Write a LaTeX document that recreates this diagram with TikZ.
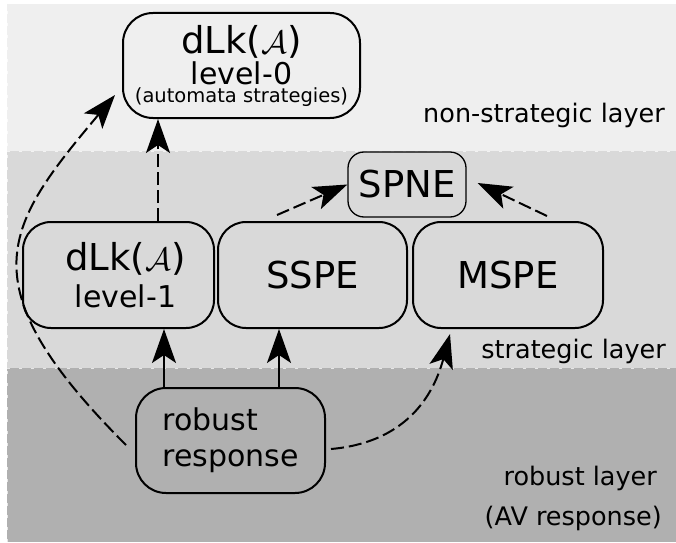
\documentclass[tikz,border=0pt]{standalone}
\usepackage{fontspec}
\setmainfont{DejaVu Sans}
\usetikzlibrary{arrows.meta}
\definecolor{bandtop}{HTML}{EFEFEF}
\definecolor{bandmid}{HTML}{D9D9D9}
\definecolor{bandlow}{HTML}{B0B0B0}
\newcommand{\calA}{\scalebox{1.3}{$\mathcal{A}$}}
\begin{document}
\begin{tikzpicture}[x=1pt,y=1pt,
  box/.style={draw=black, line width=2pt, inner sep=0pt, rounded corners=28pt},
  arr/.style={-{Stealth[length=34pt,width=24pt,inset=8pt]}, line width=2pt},
  dsh/.style={dash pattern=on 13pt off 5pt},
  bandedge/.style={draw=white, line width=1pt, dash pattern=on 3pt off 9pt, opacity=.7},
  layerlabel/.style={anchor=base east, inner sep=0pt, font=\fontsize{25.5}{30}\selectfont}]
\useasboundingbox (0,0) rectangle (676,542);
\fill[white] (0,0) rectangle (676,542);
\fill[bandtop] (7,391) rectangle (676,538);
\fill[bandmid] (7,174) rectangle (676,391);
\fill[bandlow] (7,0) rectangle (676,174);
\draw[bandedge] (7,538) -- (676,538);
\draw[bandedge] (7,391) -- (676,391);
\draw[bandedge] (7,174) -- (676,174);
\draw[bandedge] (7,0) -- (7,538);

% boxes
\node[box, rounded corners=30pt, minimum width=237pt, minimum height=105pt, align=center,
  font=\fontsize{30}{31}\selectfont] (L0) at (241.5,476.5)
  {{\fontsize{37}{37}\selectfont dLk(\calA)}\\ level-0\\[-13pt]{\fontsize{19.5}{19.5}\selectfont (automata strategies)}};
\node[box, minimum width=191pt, minimum height=106pt, align=center,
  font=\fontsize{30}{37}\selectfont] (L1) at (118.5,267)
  {\hspace*{14pt}{\fontsize{37}{37}\selectfont dLk(\calA)}\\ \hspace*{14pt}level-1};
\node[box, minimum width=189pt, minimum height=106pt, font=\fontsize{37}{40}\selectfont] (SSPE) at (312.5,267) {SSPE};
\node[box, minimum width=190pt, minimum height=106pt, font=\fontsize{37}{40}\selectfont] (MSPE) at (508,267) {MSPE};
\node[box, line width=1.3pt, rounded corners=16pt, minimum width=118pt, minimum height=65pt,
  font=\fontsize{37}{40}\selectfont] (SPNE) at (407,357.5) {SPNE};
\node[box, rounded corners=30pt, minimum width=189pt, minimum height=105pt, align=left,
  font=\fontsize{30}{36}\selectfont] (R) at (230.5,101.5) {robust\\response};

% layer labels
\node[layerlabel] (lab1) at (665,420) {non-strategic layer};
\node[layerlabel] (lab2) at (666,184) {strategic layer};
\node[layerlabel] (lab3) at (657,57) {robust layer};
\node[layerlabel] (lab4) at (662,17) {(AV response)};

% connectors
\coordinate (x0) at (158,0);
\coordinate (x1) at (164,0);
\coordinate (x2) at (279,0);
\draw[arr,dsh] (L1.north -| x0) -- (L0.south -| x0);
\draw[arr] (R.north -| x1) -- (L1.south -| x1);
\draw[arr] (R.north -| x2) -- (SSPE.south -| x2);
\draw[arr,dsh] ([shift={(-35.5,6)}]SSPE.north) -- (SPNE.west);
\draw[arr,dsh] ([shift={(39,5)}]MSPE.north) -- ([shift={(11,1.5)}]SPNE.east);
\draw[arr,dsh] ([shift={(5,-8.5)}]R.east) to[out=5,in=255,out distance=70pt,in distance=70pt] ([shift={(-58,-5)}]MSPE.south);
\draw[arr,dsh] ([shift={(-9,-4.5)}]R.west) to[out=135,in=230,out distance=230pt,in distance=170pt] ([shift={(-7,-29.5)}]L0.west);
\end{tikzpicture}
\end{document}
